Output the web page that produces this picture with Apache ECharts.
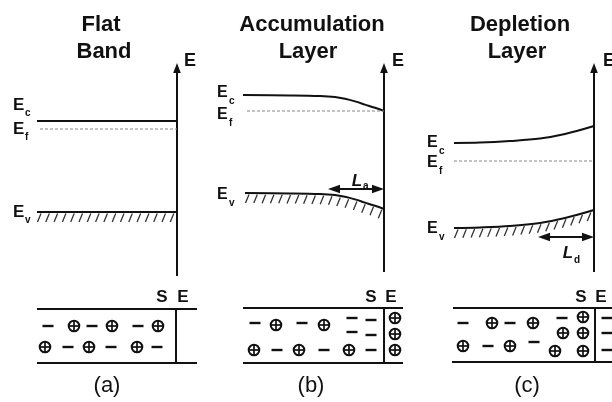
<!DOCTYPE html>
<html>
<head>
<meta charset="utf-8">
<script src="https://cdn.jsdelivr.net/npm/echarts@6/dist/echarts.min.js"></script>
<style>
  html, body { margin: 0; padding: 0; background: #fff; }
  #chart { width: 612px; height: 402px; }
</style>
</head>
<body>
<div id="chart"></div>
<script>
// Energy-band sketches drawn in a 612 x 402 drawing space (y grows downward).

// (a) flat band
const flatEc = [[37, 121], [177, 121]];
const flatEf = [[40, 129], [177, 129]];
const flatEv = [[37, 212], [177, 212]];

// (b) accumulation layer: bands bend down towards the surface
const accEc = [[243, 95], [290, 95.4], [320, 96], [335, 97], [345, 98.8], [355, 101.4], [365, 104.6], [375, 107.8], [384, 111]];
const accEf = [[247, 111], [384, 111]];
const accEv = [[245, 193], [290, 193.4], [320, 194], [335, 195], [345, 196.8], [355, 199.4], [365, 202.6], [375, 205.8], [384, 209]];

// (c) depletion layer: bands bend up towards the surface
const depEc = [[454, 143], [480, 142.6], [510, 141], [540, 138.5], [565, 134], [594, 126]];
const depEf = [[454, 161], [594, 161]];
const depEv = [[454, 228], [480, 227.4], [510, 226], [540, 223], [565, 218], [594, 210]];

// energy axes: [x, bottom, top]
const energyAxes = [[177, 276, 63], [384, 272, 63], [594, 272, 63]];
// layer widths La / Ld: [y, left, right]
const layerSpans = [[189, 328, 384], [237, 538, 594]];

// slab outlines below each sketch: [x1, y1, x2, y2]
const slabEdges = [
  [37, 309, 197, 309], [37, 363, 197, 363], [176, 309, 176, 363],
  [243, 308, 403, 308], [243, 363, 403, 363], [384, 308, 384, 363],
  [453, 308, 612, 308], [452, 362, 612, 362], [595, 308, 595, 362]
];

// charges: [x, y, sign]  (+1 = positive ion, -1 = electron)
const chargesA = [
  [48, 326, -1], [74, 326, 1], [92, 326, -1], [112, 326, 1], [138, 326, -1], [158, 326, 1],
  [45, 347, 1], [68, 347, -1], [89, 347, 1], [111, 347, -1], [137, 347, 1], [157, 347, -1]
];
const chargesB = [
  [255, 323, -1], [276, 325, 1], [302, 323, -1], [324, 325, 1],
  [352, 318, -1], [352, 332, -1], [371, 320, -1], [371, 335, -1], [371, 350, -1],
  [254, 350, 1], [277, 350, -1], [299, 350, 1], [324, 350, -1], [349, 350, 1],
  [395, 318, 1], [395, 334, 1], [395, 350, 1]
];
const chargesC = [
  [463, 323, -1], [492, 323, 1], [510, 323, -1], [533, 323, 1], [562, 318, -1], [583, 317, 1],
  [563, 333, 1], [583, 333, 1],
  [463, 346, 1], [488, 346, -1], [510, 346, 1], [534, 342, -1], [555, 351, 1], [583, 351, 1],
  [607, 318, -1], [607, 333, -1], [607, 350, -1]
];

const INK = '#111';
const FONT = '"Liberation Sans", Arial, sans-serif';

function bandLine(points) {
  return {
    type: 'line', data: points, symbol: 'none', smooth: 0.35,
    lineStyle: { color: INK, width: 2 }, silent: true
  };
}
function fermiLine(points) {
  return {
    type: 'line', data: points, symbol: 'none',
    lineStyle: { color: '#888', width: 1, type: [3, 2] }, silent: true
  };
}
// short slanted strokes under the valence band edge
function hatch(points) {
  return {
    type: 'custom', data: points, silent: true,
    renderItem(params, api) {
      if (params.dataIndex !== 0) return null;
      const px = points.map(p => api.coord(p));
      const children = [];
      const step = 8.3;
      for (let x = px[0][0] + 4; x <= px[px.length - 1][0] - 1; x += step) {
        let k = 0;
        while (k < px.length - 2 && px[k + 1][0] < x) k++;
        const t = (x - px[k][0]) / (px[k + 1][0] - px[k][0]);
        const y = px[k][1] + t * (px[k + 1][1] - px[k][1]);
        children.push({
          type: 'line',
          shape: { x1: x, y1: y + 1.5, x2: x - 3.5, y2: y + 10 },
          style: { stroke: '#333', lineWidth: 1.3 }
        });
      }
      return { type: 'group', children };
    }
  };
}

const series = [
  bandLine(flatEc), fermiLine(flatEf), bandLine(flatEv), hatch(flatEv),
  bandLine(accEc), fermiLine(accEf), bandLine(accEv), hatch(accEv),
  bandLine(depEc), fermiLine(depEf), bandLine(depEv), hatch(depEv),
  {
    type: 'custom', data: energyAxes, silent: true,
    renderItem(params, api) {
      const b = api.coord([api.value(0), api.value(1)]);
      const t = api.coord([api.value(0), api.value(2)]);
      return {
        type: 'group', children: [
          { type: 'line', shape: { x1: b[0], y1: b[1], x2: t[0], y2: t[1] + 6 }, style: { stroke: INK, lineWidth: 2 } },
          { type: 'polygon', shape: { points: [[t[0], t[1]], [t[0] - 3.8, t[1] + 10], [t[0] + 3.8, t[1] + 10]] }, style: { fill: INK } }
        ]
      };
    }
  },
  {
    type: 'custom', data: layerSpans, silent: true,
    renderItem(params, api) {
      const l = api.coord([api.value(1), api.value(0)]);
      const r = api.coord([api.value(2), api.value(0)]);
      const y = l[1];
      return {
        type: 'group', children: [
          { type: 'line', shape: { x1: l[0] + 6, y1: y, x2: r[0] - 6, y2: y }, style: { stroke: INK, lineWidth: 2 } },
          { type: 'polygon', shape: { points: [[l[0], y], [l[0] + 12, y - 4.2], [l[0] + 12, y + 4.2]] }, style: { fill: INK } },
          { type: 'polygon', shape: { points: [[r[0], y], [r[0] - 12, y - 4.2], [r[0] - 12, y + 4.2]] }, style: { fill: INK } }
        ]
      };
    }
  },
  {
    type: 'custom', data: slabEdges, silent: true,
    renderItem(params, api) {
      const a = api.coord([api.value(0), api.value(1)]);
      const b = api.coord([api.value(2), api.value(3)]);
      return { type: 'line', shape: { x1: a[0], y1: a[1], x2: b[0], y2: b[1] }, style: { stroke: INK, lineWidth: 2 } };
    }
  }
];

// ion / electron symbols
[chargesA, chargesB, chargesC].forEach(ch => {
  series.push({
    type: 'custom', data: ch, silent: true,
    renderItem(params, api) {
      const c = api.coord([api.value(0), api.value(1)]);
      if (api.value(2) < 0) {
        return { type: 'line', shape: { x1: c[0] - 5.5, y1: c[1], x2: c[0] + 5.5, y2: c[1] }, style: { stroke: INK, lineWidth: 2.4 } };
      }
      const r = 5.3;
      return {
        type: 'group', children: [
          { type: 'circle', shape: { cx: c[0], cy: c[1], r }, style: { fill: 'none', stroke: INK, lineWidth: 2 } },
          { type: 'line', shape: { x1: c[0] - r, y1: c[1], x2: c[0] + r, y2: c[1] }, style: { stroke: INK, lineWidth: 1.7 } },
          { type: 'line', shape: { x1: c[0], y1: c[1] - r, x2: c[0], y2: c[1] + r }, style: { stroke: INK, lineWidth: 1.7 } }
        ]
      };
    }
  });
});

// text helpers
function txt(text, x, y, size, opts) {
  opts = opts || {};
  const align = opts.align || 'left';
  return {
    type: 'text', x, y, silent: true,
    style: {
      text, fill: INK, fontFamily: FONT, fontSize: size,
      fontWeight: opts.weight || 'bold', fontStyle: opts.style || 'normal',
      align, verticalAlign: 'middle', textAlign: align, textVerticalAlign: 'middle'
    }
  };
}
function level(sub, x, y, size) {
  size = size || 16;
  return [txt('E', x, y, size), txt(sub, x + 12, y + 8, 10)];
}

const graphics = [
  txt('Flat', 101, 25, 22, { align: 'center' }),
  txt('Band', 104, 52, 22, { align: 'center' }),
  txt('Accumulation', 312, 25, 22, { align: 'center' }),
  txt('Layer', 308, 52, 22, { align: 'center' }),
  txt('Depletion', 520, 25, 22, { align: 'center' }),
  txt('Layer', 517, 52, 22, { align: 'center' }),
  txt('E', 184, 61, 18), txt('E', 392, 61, 18), txt('E', 603, 61, 18),
  ...level('c', 13, 105, 17), ...level('f', 13, 129, 17), ...level('v', 13, 212, 17),
  ...level('c', 217, 93), ...level('f', 217, 115), ...level('v', 217, 195),
  ...level('c', 427, 143), ...level('f', 427, 163), ...level('v', 427, 229),
  txt('L', 357, 181, 17, { align: 'center', style: 'italic' }), txt('a', 363, 186, 10),
  txt('L', 568, 253, 17, { align: 'center', style: 'italic' }), txt('d', 574, 260, 10),
  txt('S', 162, 297, 17, { align: 'center' }), txt('E', 183, 297, 17, { align: 'center' }),
  txt('S', 371, 297, 17, { align: 'center' }), txt('E', 391, 297, 17, { align: 'center' }),
  txt('S', 581, 297, 17, { align: 'center' }), txt('E', 601, 297, 17, { align: 'center' }),
  txt('(a)', 107, 386, 22, { align: 'center', weight: 'normal' }),
  txt('(b)', 311, 386, 22, { align: 'center', weight: 'normal' }),
  txt('(c)', 527, 386, 22, { align: 'center', weight: 'normal' })
];

const chart = echarts.init(document.getElementById('chart'), null, { renderer: 'canvas' });
chart.setOption({
  animation: false,
  backgroundColor: '#fff',
  grid: { left: 0, right: 0, top: 0, bottom: 0 },
  xAxis: { type: 'value', min: 0, max: 612, show: false },
  yAxis: { type: 'value', min: 0, max: 402, inverse: true, show: false },
  series,
  graphic: { elements: graphics }
});
</script>
</body>
</html>
